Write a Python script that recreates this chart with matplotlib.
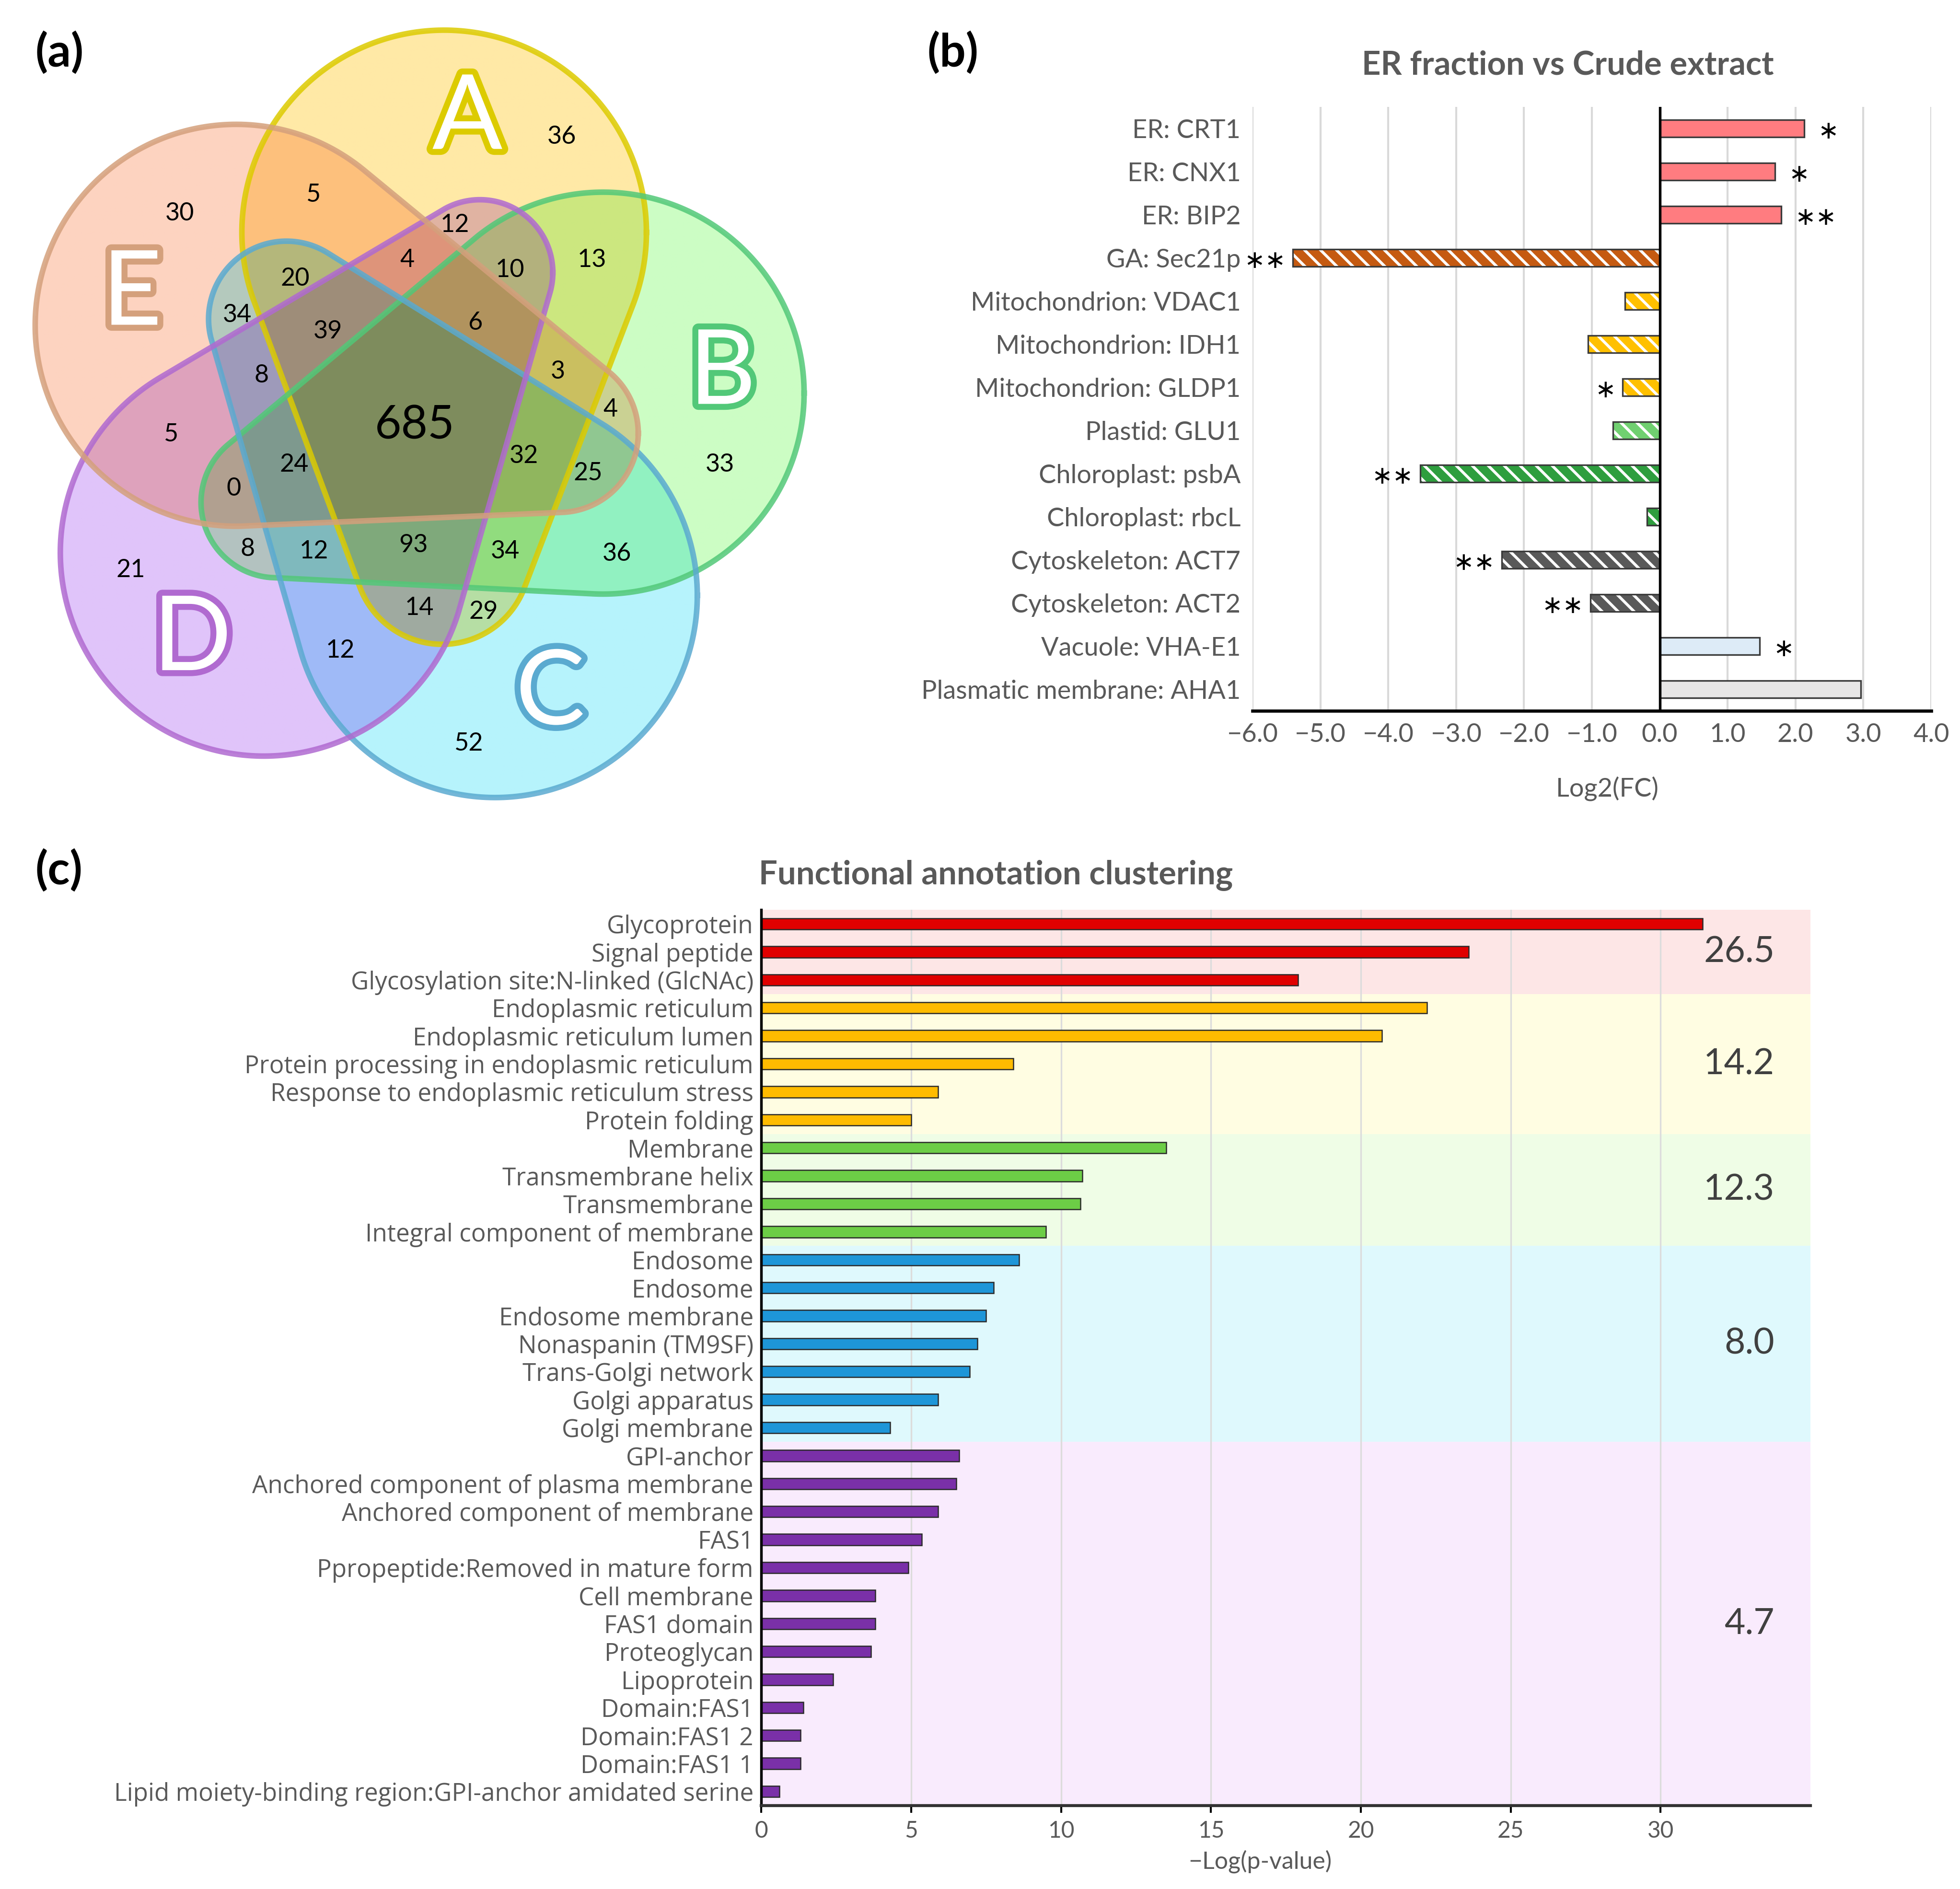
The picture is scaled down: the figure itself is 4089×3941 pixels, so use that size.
import numpy as np
import matplotlib
matplotlib.use("Agg")
import matplotlib.pyplot as plt
import matplotlib.patheffects as pe
from matplotlib.path import Path

plt.rcParams['font.family'] = ['Lato', 'DejaVu Sans']

# ---------------- data ----------------
# (a) five-set Venn
venn_names = ['A', 'B', 'C', 'D', 'E']
venn_fill = ['#ffe9a6', '#ccfdc4', '#b6f3fc', '#e0c4fa', '#fdd3c0']
venn_edge = ['#dccb00', '#52c878', '#5aaad0', '#b06ad0', '#d4a07c']
venn_counts = [36, 30, 5, 12, 13, 4, 10, 20, 34, 39, 6, 3, 8, 4, 685,
               33, 5, 24, 32, 25, 0, 8, 12, 93, 34, 36, 21, 14, 29, 12, 52]

# (b) ER fraction vs crude extract
fc_labels = ['ER: CRT1', 'ER: CNX1', 'ER: BIP2', 'GA: Sec21p',
             'Mitochondrion: VDAC1', 'Mitochondrion: IDH1', 'Mitochondrion: GLDP1',
             'Plastid: GLU1', 'Chloroplast: psbA', 'Chloroplast: rbcL',
             'Cytoskeleton: ACT7', 'Cytoskeleton: ACT2', 'Vacuole: VHA-E1',
             'Plasmatic membrane: AHA1']
fc_values = [2.13, 1.70, 1.79, -5.41, -0.51, -1.06, -0.55, -0.69, -3.53, -0.19,
             -2.33, -1.02, 1.47, 2.96]
fc_sig = ['*', '*', '**', '**', '', '', '*', '', '**', '', '**', '**', '*', '']
fc_group = ['ER', 'ER', 'ER', 'GA', 'Mito', 'Mito', 'Mito', 'Plastid', 'Chloro',
            'Chloro', 'Cyto', 'Cyto', 'Vac', 'PM']

# (c) functional annotation clustering
terms = ['Glycoprotein', 'Signal peptide', 'Glycosylation site:N-linked (GlcNAc)',
         'Endoplasmic reticulum', 'Endoplasmic reticulum lumen',
         'Protein processing in endoplasmic reticulum',
         'Response to endoplasmic reticulum stress', 'Protein folding',
         'Membrane', 'Transmembrane helix', 'Transmembrane',
         'Integral component of membrane',
         'Endosome', 'Endosome', 'Endosome membrane', 'Nonaspanin (TM9SF)',
         'Trans-Golgi network', 'Golgi apparatus', 'Golgi membrane',
         'GPI-anchor', 'Anchored component of plasma membrane',
         'Anchored component of membrane', 'FAS1',
         'Ppropeptide:Removed in mature form', 'Cell membrane', 'FAS1 domain',
         'Proteoglycan', 'Lipoprotein', 'Domain:FAS1', 'Domain:FAS1 2',
         'Domain:FAS1 1', 'Lipid moiety-binding region:GPI-anchor amidated serine']
neglogp = [31.4, 23.6, 17.9, 22.2, 20.7, 8.4, 5.9, 5.0, 13.5, 10.7, 10.65, 9.5,
           8.6, 7.75, 7.5, 7.2, 6.95, 5.9, 4.3, 6.6, 6.5, 5.9, 5.35, 4.9, 3.8,
           3.8, 3.65, 2.4, 1.4, 1.3, 1.3, 0.6]
cluster_sizes = [3, 5, 4, 7, 13]
cluster_scores = [26.5, 14.2, 12.3, 8.0, 4.7]

# ---------------- layout helpers (reference grid 1560 x 1504) ----------------
GW, GH = 1560.0, 1504.0
fig = plt.figure(figsize=(4089 / 300, 3941 / 300), dpi=300)


def fx(x):
    return x / GW


def fy(y):
    return 1 - y / GH


def lobe(c1, r1, c2, r2, n=1440):
    # outline of the convex hull of two circles (big end + rounded tip)
    c1 = np.asarray(c1, float)
    c2 = np.asarray(c2, float)
    phi = np.linspace(0, 2 * np.pi, n)
    u = np.column_stack([np.cos(phi), np.sin(phi)])
    h1 = u @ c1 + r1
    h2 = u @ c2 + r2
    return np.where((h1 >= h2)[:, None], c1 + r1 * u, c2 + r2 * u)


# ---------------- (a) Venn ----------------
axa = fig.add_axes([0, fy(660), fx(660), 660 / GH])
lobe_geom = [((353.5, 185), 161, (352, 443), 70),
             ((480, 313), 160, (220, 400), 60),
             ((394, 474), 161, (228, 254), 62),
             ((210, 440), 162, (382, 217), 58),
             ((188, 259), 160, (445, 345), 63)]
polys = [lobe(*g) for g in lobe_geom]

N = 1500
gx = np.linspace(0, 660, N)
X, Y = np.meshgrid(gx, gx)
pts = np.column_stack([X.ravel(), Y.ravel()])
img = np.ones((N * N, 3))
for poly, col in zip(polys, venn_fill):
    inside = Path(poly).contains_points(pts)
    img[inside] *= np.array(matplotlib.colors.to_rgb(col))
axa.imshow(img.reshape(N, N, 3), extent=(0, 660, 660, 0), interpolation='bilinear')
for poly, col in zip(polys, venn_edge):
    axa.plot(poly[:, 0], poly[:, 1], color=col, lw=2.8, alpha=0.85,
             solid_joinstyle='round')

letter_pos = [(372, 95), (575, 298), (438, 553), (153, 510), (105, 235)]
for name, (lx, ly), col in zip(venn_names, letter_pos, venn_edge):
    axa.text(lx, ly, name, fontsize=52, color='white', ha='center', va='center',
             path_effects=[pe.withStroke(linewidth=6, foreground=col)])

count_pos = [(447, 109), (143, 170), (249, 155), (362, 179), (471, 207), (324, 207),
             (406, 215), (235, 222), (189, 251), (261, 264), (378, 257), (444, 296),
             (208, 299), (486, 326), (330, 339), (573, 370), (136, 346), (234, 370),
             (417, 363), (468, 377), (186, 389), (197, 437), (250, 439), (329, 434),
             (402, 439), (491, 441), (104, 454), (334, 484), (385, 487), (271, 518),
             (373, 592)]
for c, (px, py) in zip(venn_counts, count_pos):
    axa.text(px, py, str(c), fontsize=23 if c == 685 else 12.5, ha='center',
             va='center', color='black')
axa.set_xlim(0, 660)
axa.set_ylim(660, 0)
axa.set_aspect('auto')
axa.axis('off')

# ---------------- (b) Log2 FC bars ----------------
styles = {'ER': ('#ff7c80', None), 'GA': ('#c55a11', '\\\\\\'),
          'Mito': ('#ffc000', '\\\\\\'), 'Plastid': ('#70d070', '\\\\\\'),
          'Chloro': ('#2e9e3e', '\\\\\\'), 'Cyto': ('#595959', '\\\\\\'),
          'Vac': ('#ddebf7', None), 'PM': ('#e7e6e6', None)}
plt.rcParams['hatch.linewidth'] = 1.4

axb = fig.add_axes([fx(997), fy(566), 540 / GW, 481 / GH])
yb = np.arange(len(fc_labels))
for i, (v, g) in enumerate(zip(fc_values, fc_group)):
    face, hatch = styles[g]
    axb.barh(i, v, height=0.4, color=face, edgecolor='white', lw=0,
             hatch=hatch, zorder=2)
axb.barh(yb, fc_values, height=0.4, fill=False, edgecolor='#3a3a3a', lw=0.8, zorder=3)
for i, (v, s) in enumerate(zip(fc_values, fc_sig)):
    if s:
        off = 0.2 if v > 0 else -0.1
        axb.text(v + off, i + 0.08, '\u2217' * len(s), ha='left' if v > 0 else 'right',
                 va='center', fontsize=12.5, family='DejaVu Sans', color='black')
axb.axvline(0, color='black', lw=1.3, zorder=4)
axb.set_xlim(-6, 4)
axb.set_ylim(len(fc_labels) - 0.5, -0.5)
xt = np.arange(-6, 5)
axb.set_xticks(xt, [f'{t:.1f}'.replace('-', '\u2212') for t in xt])
axb.set_yticks(yb, fc_labels)
axb.tick_params(axis='y', length=0, pad=6, labelsize=13, labelcolor='#595959')
axb.tick_params(axis='x', length=0, pad=6, labelsize=13, labelcolor='#595959')
axb.xaxis.grid(True, color='#d9d9d9', lw=1)
axb.set_axisbelow(True)
for sp in ['top', 'right', 'left']:
    axb.spines[sp].set_visible(False)
axb.spines['bottom'].set_linewidth(1.6)
fig.text(fx(1248), fy(52), 'ER fraction vs Crude extract', ha='center', va='center',
         fontsize=16.5, fontweight='bold', color='#595959')
fig.text(fx(1279), fy(628), 'Log2(FC)', ha='center', va='center', fontsize=13,
         color='#595959')

# ---------------- (c) functional annotation clustering ----------------
band_cols = ['#fde6e6', '#fffde2', '#effde6', '#dff9fd', '#f9ebfd']
bar_cols = ['#e00000', '#ffbb00', '#6ccd46', '#1e96d8', '#7a30a8']
axc = fig.add_axes([fx(606), fy(1437.5), 835 / GW, 713 / GH])
yc = np.arange(len(terms))
cols = []
start = 0
for size, band, bc, sc in zip(cluster_sizes, band_cols, bar_cols, cluster_scores):
    axc.axhspan(start - 0.5, start + size - 0.5, color=band, lw=0, zorder=0)
    axc.text(33.8, start + (size - 1) / 2, f'{sc:.1f}', ha='right', va='center',
             fontsize=18, color='#404040')
    cols += [bc] * size
    start += size
axc.barh(yc, neglogp, height=0.4, color=cols, edgecolor='#2a2a2a', lw=0.6, zorder=2)
axc.set_xlim(0, 35)
axc.set_ylim(len(terms) - 0.5, -0.5)
axc.set_xticks(np.arange(0, 31, 5))
axc.set_yticks(yc, terms)
for lbl in axc.get_yticklabels():
    lbl.set_fontfamily(['Open Sans', 'DejaVu Sans'])
axc.tick_params(axis='y', length=0, pad=4, labelsize=12.3, labelcolor='#595959')
axc.tick_params(axis='x', length=3.5, width=1, color='black', direction='out',
                pad=4, labelsize=11.5, labelcolor='#595959')
axc.xaxis.grid(True, color='#dcdcdc', lw=0.8)
axc.set_axisbelow(True)
for sp in ['top', 'right']:
    axc.spines[sp].set_visible(False)
axc.spines['left'].set_linewidth(1.3)
axc.spines['bottom'].set_linewidth(1.5)
axc.spines['bottom'].set_color('#333333')
fig.text(fx(1003), fy(1482), '\u2212Log(p-value)', ha='center', va='center',
         fontsize=12, color='#595959')
fig.text(fx(604), fy(697), 'Functional annotation clustering', ha='left', va='center',
         fontsize=16.5, fontweight='bold', color='#595959')

# panel tags
for tag, (px, py) in zip(['(a)', '(b)', '(c)'], [(28, 42), (738, 42), (28, 693)]):
    fig.text(fx(px), fy(py), tag, ha='left', va='center', fontsize=23,
             fontweight='bold', color='black')

fig.savefig('out.png', dpi=300)
